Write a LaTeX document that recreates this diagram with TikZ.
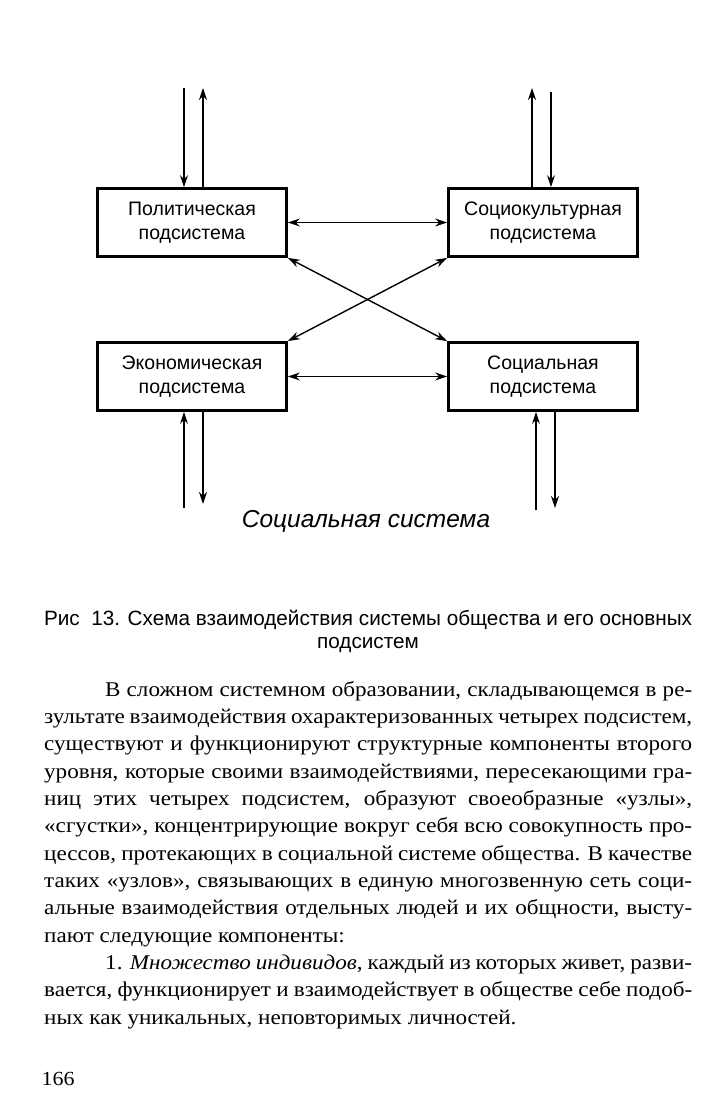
\documentclass[tikz,border=0pt]{standalone}
\usepackage{fontspec}
\setmainfont{Liberation Serif}[FakeStretch=1.1]
\newfontfamily\diagfont{Liberation Sans}
\usetikzlibrary{arrows.meta}

\begin{document}
\begin{tikzpicture}[x=1pt,y=-1pt,>={Stealth[length=12pt,width=8pt]},
  subsys/.style={draw,line width=2.8pt,minimum width=189pt,minimum height=68pt,
    inner sep=0pt,align=center,font=\diagfont\fontsize{19.5}{24}\selectfont},
  link/.style={<->,line width=1.4pt},
  flow/.style={->,line width=1.4pt}]
  \useasboundingbox (0,0) rectangle (713,1108);
  % four subsystems
  \node[subsys] (pol) at (192,222.5) {Политическая\\подсистема};
  \node[subsys] (cult) at (543,222.5) {Социокультурная\\подсистема};
  \node[subsys] (eco) at (192,376.5) {Экономическая\\подсистема};
  \node[subsys] (soc) at (543,376.5) {Социальная\\подсистема};
  \draw[link] (pol) -- (cult);
  \draw[link] (eco) -- (soc);
  \draw[link] (pol.south east) -- (soc.north west);
  \draw[link] (cult.south west) -- (eco.north east);
  % exchange with the whole system
  \coordinate (polin) at (184,88);
  \coordinate (polout) at (203,88);
  \coordinate (cultout) at (532,88);
  \coordinate (cultin) at (551,92);
  \coordinate (ecoin) at (184,508);
  \coordinate (ecoout) at (203,504);
  \coordinate (socin) at (536,510);
  \coordinate (socout) at (555,508);
  \draw[flow] (polin) -- (polin |- pol.north);
  \draw[flow] (polout |- pol.north) -- (polout);
  \draw[flow] (cultout |- cult.north) -- (cultout);
  \draw[flow] (cultin) -- (cultin |- cult.north);
  \draw[flow] (ecoin) -- (ecoin |- eco.south);
  \draw[flow] (ecoout |- eco.south) -- (ecoout);
  \draw[flow] (socin) -- (socin |- soc.south);
  \draw[flow] (socout |- soc.south) -- (socout);
  \node[font=\diagfont\itshape\fontsize{24.5}{26}\selectfont] (sys) at (366,521) {Социальная система};
  % caption and page text
  \node[align=center,font=\diagfont\fontsize{20.7}{23}\selectfont] (cap) at (368,631)
    {Рис~~13. Схема взаимодействия системы общества и его основных\\подсистем};
  \node[anchor=north west,inner sep=0pt,text width=648pt,align=justify,
    font=\fontsize{21}{27.33}\selectfont] (body) at (44,681)
    {\tolerance=9999 \hyphenpenalty=10000
    \hspace*{61pt}В сложном системном образовании, складывающемся в ре-\linebreak
    зультате взаимодействия охарактеризованных четырех подсистем,\linebreak
    существуют и функционируют структурные компоненты второго\linebreak
    уровня, которые своими взаимодействиями, пересекающими гра-\linebreak
    ниц этих четырех подсистем, образуют своеобразные «узлы»,\linebreak
    «сгустки», концентрирующие вокруг себя всю совокупность про-\linebreak
    цессов, протекающих в социальной системе общества. В качестве\linebreak
    таких «узлов», связывающих в единую многозвенную сеть соци-\linebreak
    альные взаимодействия отдельных людей и их общности, высту-\linebreak
    пают следующие компоненты:\par
    \hspace*{61pt}1. \textit{Множество индивидов}, каждый из которых живет, разви-\linebreak
    вается, функционирует и взаимодействует в обществе себе подоб-\linebreak
    ных как уникальных, неповторимых личностей.};
  \node[anchor=base west,font=\fontsize{20}{24}\selectfont] (page) at (38,1085) {166};
\end{tikzpicture}
\end{document}
